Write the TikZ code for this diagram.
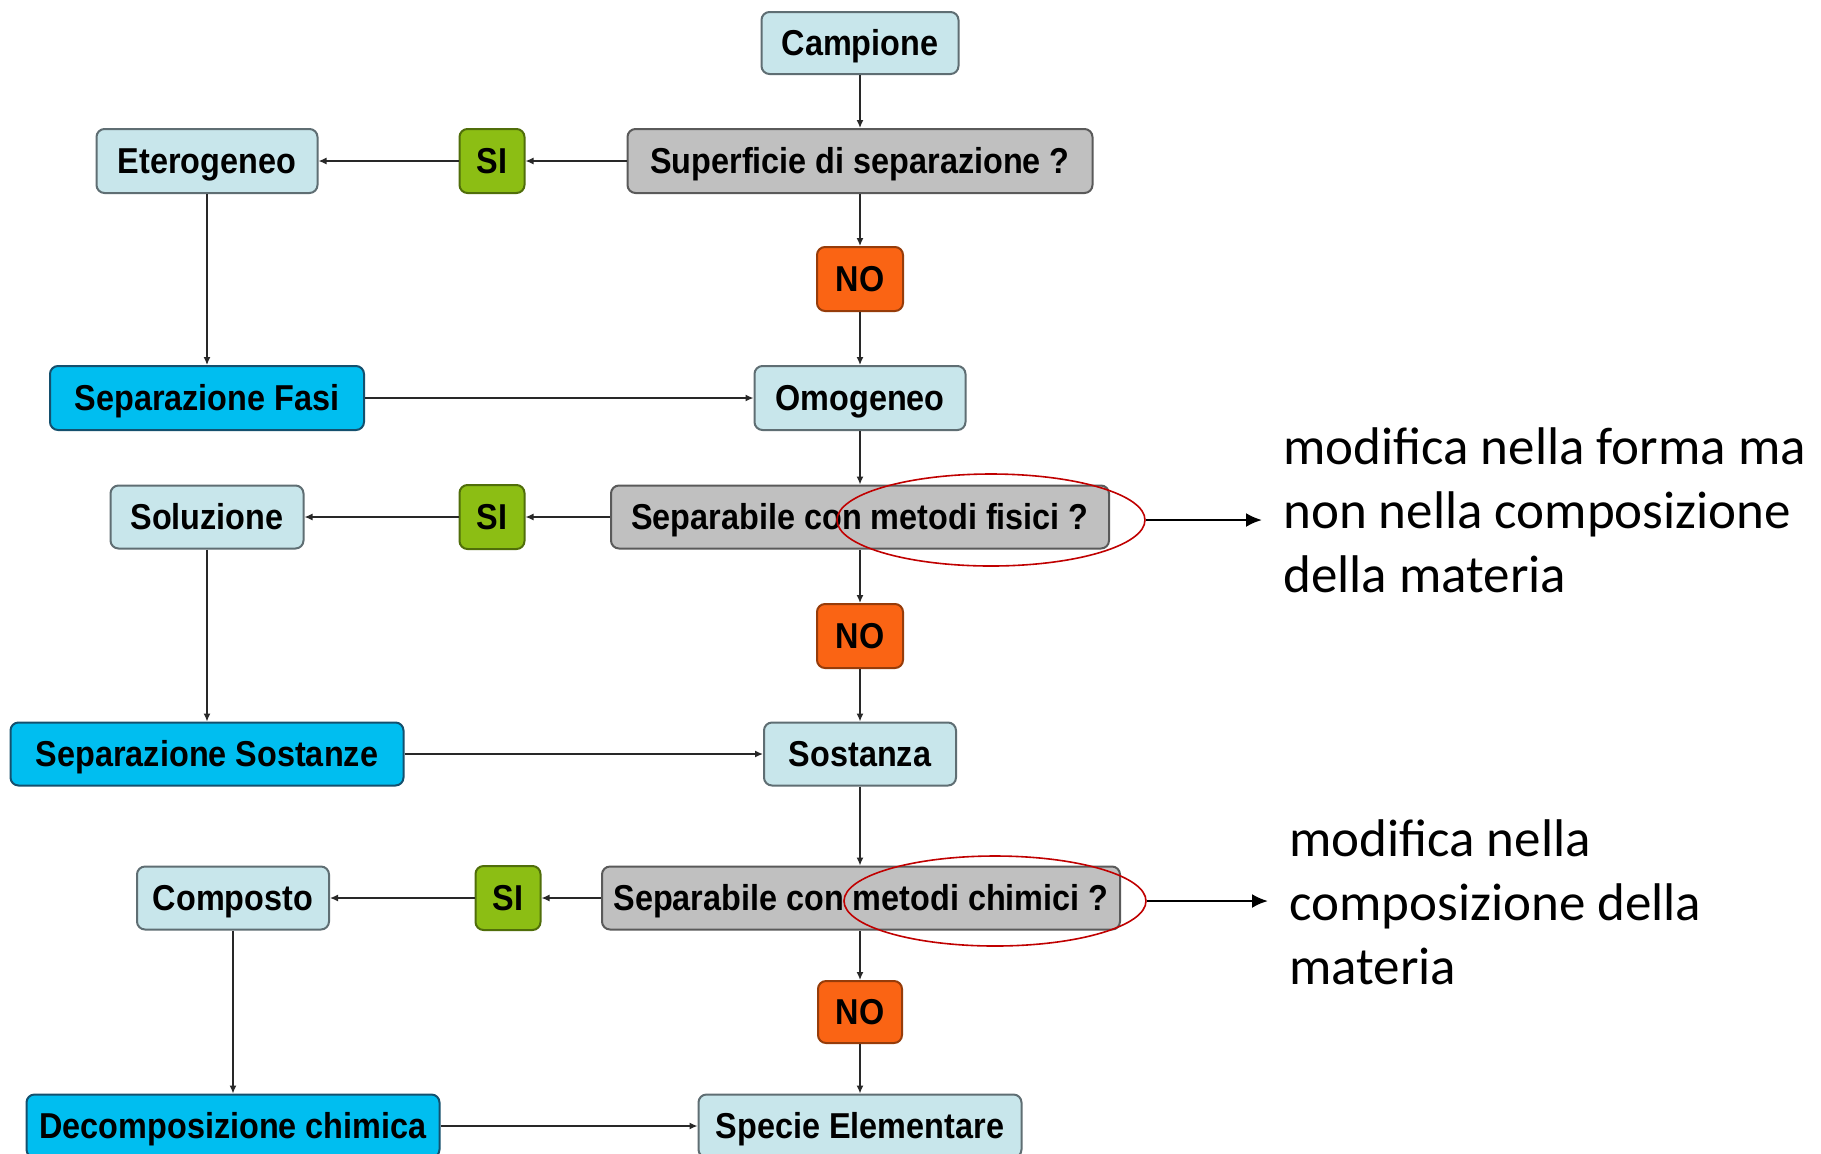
\documentclass[tikz,border=0pt]{standalone}
\usepackage{fontspec}
\usetikzlibrary{arrows.meta,shapes.geometric}
\newfontfamily\boxfont[FakeStretch=0.9]{Liberation Sans}
\newfontfamily\notefont{Carlito}
\definecolor{lightbox}{RGB}{200,230,235}
\definecolor{lightedge}{RGB}{95,110,115}
\definecolor{greybox}{RGB}{192,192,192}
\definecolor{greyedge}{RGB}{90,90,90}
\definecolor{bluebox}{RGB}{0,190,240}
\definecolor{blueedge}{RGB}{20,80,110}
\definecolor{greenbox}{RGB}{140,190,20}
\definecolor{greenedge}{RGB}{80,110,10}
\definecolor{orangebox}{RGB}{250,100,20}
\definecolor{orangeedge}{RGB}{150,60,10}
\definecolor{ellred}{RGB}{192,0,0}
\definecolor{linegrey}{RGB}{40,40,40}
\tikzset{
  basebox/.style={rounded corners=4pt, line width=1pt, inner sep=0pt,
    minimum height=31.5pt, text height=12.5pt, text depth=0pt,
    font=\boxfont\bfseries\fontsize{18pt}{21pt}\selectfont, text=black},
  lightnode/.style={basebox, fill=lightbox, draw=lightedge},
  greynode/.style={basebox, fill=greybox, draw=greyedge},
  bluenode/.style={basebox, fill=bluebox, draw=blueedge},
  sinode/.style={basebox, fill=greenbox, draw=greenedge, minimum width=32.5pt, minimum height=32pt},
  nonode/.style={basebox, fill=orangebox, draw=orangeedge, minimum width=43pt, minimum height=32pt},
  conn/.style={draw=linegrey, line width=0.7pt, -{Latex[length=4pt,width=3.5pt]}},
  redell/.style={ellipse, draw=ellred, line width=0.8pt, inner sep=0pt},
  notetext/.style={anchor=west, inner sep=0pt, align=left,
    font=\notefont\fontsize{26.5pt}{32pt}\selectfont, text=black},
  bigarrow/.style={draw=black, line width=1.2pt, -{Latex[length=8pt,width=7pt]}}
}
\begin{document}
\begin{tikzpicture}[x=0.5pt,y=-0.5pt]
\useasboundingbox (0,0) rectangle (1821,1153);
\clip (0,0) rectangle (1821,1153);
\fill[white] (0,0) rectangle (1821,1153);

% main column
\node[lightnode, minimum width=98.5pt, minimum height=31pt] (camp) at (860,43) {Campione};
\node[greynode, minimum width=232.5pt, minimum height=32pt] (sup) at (860,161) {Superficie di separazione ?};
\node[sinode] (si1) at (492,161) {SI};
\node[lightnode, minimum width=110.5pt, minimum height=32pt] (eter) at (207,161) {Eterogeneo};
\node[nonode] (no1) at (860,279) {NO};
\node[bluenode, minimum width=157pt, minimum height=32pt] (sepf) at (207,398) {Separazione Fasi};
\node[lightnode, minimum width=105.5pt, minimum height=32pt] (omo) at (860,398) {Omogeneo};
\node[greynode, minimum width=249pt] (fis) at (860,517) {Separabile con metodi fisici ?};
\node[sinode] (si2) at (492,517) {SI};
\node[lightnode, minimum width=96.5pt] (sol) at (207,517) {Soluzione};
\node[nonode] (no2) at (860,636) {NO};
\node[bluenode, minimum width=196.5pt] (seps) at (207,754) {Separazione Sostanze};
\node[lightnode, minimum width=96pt] (sost) at (860,754) {Sostanza};
\node[greynode, minimum width=259pt] (chi) at (861,898) {Separabile con metodi chimici ?};
\node[sinode] (si3) at (508,898) {SI};
\node[lightnode, minimum width=96pt] (comp) at (233,898) {Composto};
\node[nonode, minimum width=42pt, minimum height=31pt] (no3) at (860,1012) {NO};
\node[bluenode, minimum width=206.5pt] (deco) at (233,1126) {Decomposizione chimica};
\node[lightnode, minimum width=161.5pt] (spec) at (860,1126) {Specie Elementare};

% connectors
\draw[conn] (camp) -- (sup);
\draw[conn] (sup) -- (si1);
\draw[conn] (si1) -- (eter);
\draw[conn] (sup) -- (no1);
\draw[conn] (no1) -- (omo);
\draw[conn] (eter) -- (sepf);
\draw[conn] (sepf) -- (omo);
\draw[conn] (omo) -- (fis);
\draw[conn] (fis) -- (si2);
\draw[conn] (si2) -- (sol);
\draw[conn] (fis) -- (no2);
\draw[conn] (no2) -- (sost);
\draw[conn] (sol) -- (seps);
\draw[conn] (seps) -- (sost);
\draw[conn] (sost.south) -- (sost.south |- chi.north);
\draw[conn] (chi) -- (si3);
\draw[conn] (si3) -- (comp);
\draw[conn] (chi.south -| no3) -- (no3);
\draw[conn] (no3) -- (spec);
\draw[conn] (comp) -- (deco);
\draw[conn] (deco) -- (spec);

% red ellipses
\node[redell, minimum width=154pt, minimum height=46pt] (e1) at (991,520) {};
\node[redell, minimum width=151pt, minimum height=45pt] (e2) at (995,901) {};

% notes
\node[notetext] (t1) at (1283,510) {modifica nella forma ma\\non nella composizione\\della materia};
\node[notetext] (t2) at (1289,902) {modifica nella\\composizione della\\materia};
\draw[bigarrow, shorten >=10.5pt] (e1.east) -- (e1.east -| t1.west);
\draw[bigarrow, shorten >=10.5pt] (e2.east) -- (e2.east -| t2.west);
\end{tikzpicture}
\end{document}
